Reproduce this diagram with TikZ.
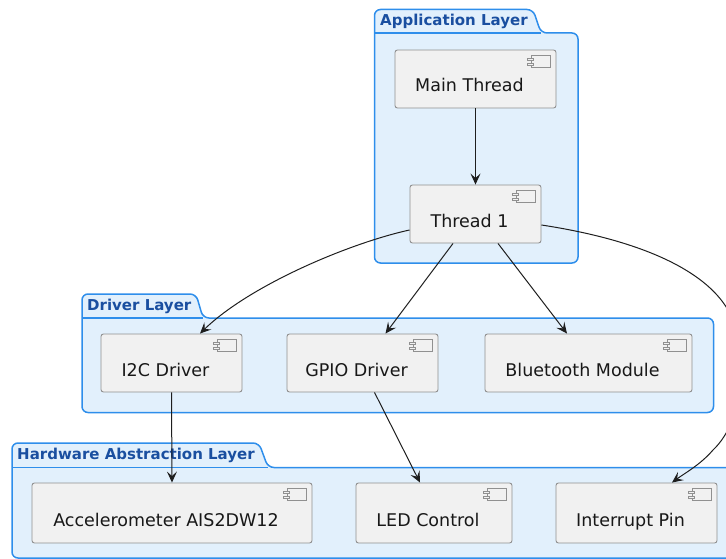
\documentclass[tikz,border=0pt]{standalone}
\usepackage{fontspec}
\setmainfont{DejaVu Sans}
\usetikzlibrary{arrows.meta,calc}
\definecolor{pkgfill}{HTML}{E2F0FC}
\definecolor{pkgline}{HTML}{2E8EEB}
\definecolor{pkgtext}{HTML}{1A4FA0}
\definecolor{compfill}{HTML}{F1F1F1}
\definecolor{compline}{HTML}{909090}
\definecolor{arrcol}{HTML}{1E1E1E}
\definecolor{txtcol}{HTML}{181818}
\tikzset{
  pkg/.style={draw=pkgline, fill=pkgfill, line width=1.5pt, rounded corners=6pt},
  pkgsep/.style={draw=pkgline, line width=1.5pt},
  pkgtitle/.style={font=\bfseries\fontsize{15}{18}\selectfont, text=pkgtext, inner sep=0pt, anchor=west},
  comp/.style={draw=compline, fill=compfill, line width=0.9pt, rounded corners=2.5pt, inner sep=0pt},
  comptext/.style={font=\fontsize{17.5}{21}\selectfont, text=txtcol, inner sep=0pt, anchor=base},
  iconline/.style={draw=compline, line width=0.7pt, fill=compfill},
  conn/.style={draw=arrcol, line width=1pt, -{Stealth[length=11pt,width=10pt,inset=4.5pt]}},
}
\newcommand{\pkgshape}[7]{%
  \draw[pkg] ({(#1+#6)/2},#3) -- (#6,#3) -- (#7,#4) -- (#2,#4) -- (#2,#5) -- (#1,#5) -- (#1,#3) -- cycle;
  \draw[pkgsep] (#1,#4) -- (#7,#4);
}
% component box: name, center x, center y, width, height, text
\newcommand{\compbox}[6]{%
  \node[comp, minimum width=#4pt, minimum height=#5pt] (#1) at (#2,#3) {};
  \draw[iconline] ($(#1.north east)+(-25,5.5)$) rectangle ($(#1.north east)+(-6,18)$);
  \draw[iconline] ($(#1.north east)+(-29,8.5)$) rectangle ($(#1.north east)+(-23,11)$);
  \draw[iconline] ($(#1.north east)+(-29,13.5)$) rectangle ($(#1.north east)+(-23,16)$);
  \node[comptext] (#1T) at ($(#1.center)+(-6,13)$) {#6};
}
\begin{document}
\begin{tikzpicture}[x=1pt,y=-1pt]
\useasboundingbox (0,0) rectangle (726,559);
\begin{scope}
\clip (0,0) rectangle (726,559);
% packages
\pkgshape{374.5}{578}{9.5}{33}{263}{533}{541}
\node[pkgtitle] (appTitle) at (380,21) {Application Layer};
\pkgshape{82}{713.5}{294}{318}{412.5}{196}{203}
\node[pkgtitle] (drvTitle) at (87,306) {Driver Layer};
\pkgshape{12}{745}{443}{467.5}{558}{259}{268}
\node[pkgtitle] (halTitle) at (17,455) {Hardware Abstraction Layer};
% components
\compbox{main}{475.5}{79}{161}{58}{Main Thread}
\compbox{thr}{475.5}{214}{131}{58}{Thread 1}
\compbox{i2c}{171.5}{363}{141}{58}{I2C Driver}
\compbox{gpio}{362.5}{363}{151}{58}{GPIO Driver}
\compbox{bt}{588.5}{363}{207}{58}{Bluetooth Module}
\compbox{acc}{172}{513}{280}{60}{Accelerometer AIS2DW12}
\compbox{led}{434}{513}{156}{60}{LED Control}
\compbox{intp}{636.5}{513}{161}{60}{Interrupt Pin}
% connectors
\draw[conn] (main.south) -- (thr.north);
\draw[conn] ([yshift=-16pt]thr.west) .. controls (350,243) and (250,285) .. ([xshift=28.5pt]i2c.north);
\draw[conn] ([xshift=-22.5pt]thr.south) -- ([xshift=23pt]gpio.north);
\draw[conn] ([xshift=22.5pt]thr.south) -- ([xshift=-21.5pt]bt.north);
\draw[conn] ([yshift=-11pt]thr.east) .. controls (640,240) and (705,270) .. (728,310)
  .. controls (750,350) and (745,420) .. (713,450)
  .. controls (700,465) and (685,473) .. ([xshift=35.5pt]intp.north);
\draw[conn] (i2c.south) -- (acc.north);
\draw[conn] ([xshift=12pt]gpio.south) -- ([xshift=-14pt]led.north);
\end{scope}
\end{tikzpicture}
\end{document}
